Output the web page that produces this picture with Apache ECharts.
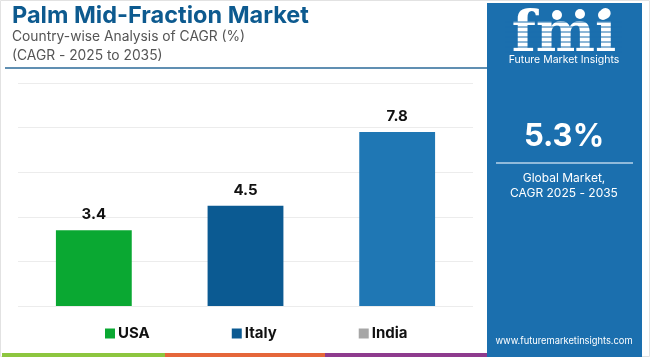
<!DOCTYPE html>
<html>
<head>
<meta charset="utf-8">
<script src="https://cdn.jsdelivr.net/npm/echarts@6/dist/echarts.min.js"></script>
<style>html,body{margin:0;padding:0;background:#fff}#c{width:650px;height:357px}</style>
</head>
<body>
<div id="c"></div>
<script>
const categories = ['USA', 'Italy', 'India'];
const values = [3.4, 4.5, 7.8];
const barColors = ['#0aa832', '#0b5a92', '#1f77b4'];
const legendColors = ['#0aa832', '#0b5a92', '#a6a6a6'];
const yTicks = [0, 2, 4, 6, 8, 10];

const chart = echarts.init(document.getElementById('c'));
const series = categories.map((name, i) => ({
  name: name,
  type: 'bar',
  barWidth: '50%',
  barGap: '-100%',
  itemStyle: { color: barColors[i] },
  label: { show: true, position: 'top', distance: 8, color: '#111', fontWeight: 'bold', fontSize: 15, fontFamily: 'Inter' },
  data: categories.map((c, j) => j === i ? values[i] : '-')
}));

const font = 'Inter';
chart.setOption({
  animation: false,
  grid: { left: 18, right: 177, top: 83, bottom: 51, containLabel: false },
  xAxis: { type: 'category', data: categories, axisLine: { show: false }, axisTick: { show: false }, axisLabel: { show: false } },
  yAxis: { type: 'value', min: yTicks[0], max: yTicks[yTicks.length - 1], interval: 2, axisLabel: { show: false },
    splitLine: { lineStyle: { color: '#ececec', width: 1 } } },
  legend: {
    left: 100, top: 321, itemWidth: 10, itemHeight: 10, itemGap: 82, icon: 'rect',
    textStyle: { fontFamily: font, fontWeight: 'bold', fontSize: 15, color: '#111', padding: [0, 0, 0, -2] },
    data: categories.map((n, i) => ({ name: n, itemStyle: { color: legendColors[i] } }))
  },
  series: series,
  graphic: [
    { type: 'rect', shape: { x: 0.5, y: 0.5, width: 649, height: 356 }, style: { fill: 'none', stroke: '#e2e2e2', lineWidth: 1 }, silent: true, z: -10 },
    { type: 'text', left: 12, top: 4, style: { text: 'Palm Mid-Fraction Market', fill: '#0d5a8f', font: 'bold 23.5px Inter' } },
    { type: 'text', left: 12, top: 30, style: { text: 'Country-wise Analysis of CAGR (%)', fill: '#555', font: '13.8px Inter' } },
    { type: 'text', left: 12, top: 49, style: { text: '(CAGR - 2025 to 2035)', fill: '#555', font: '13.8px Inter' } },
    { type: 'line', shape: { x1: 5, y1: 68, x2: 487, y2: 68 }, style: { stroke: '#2b6a98', lineWidth: 1.5 } },
    { type: 'rect', shape: { x: 2, y: 353, width: 163, height: 4 }, style: { fill: '#8dc63f' } },
    { type: 'rect', shape: { x: 165, y: 353, width: 160, height: 4 }, style: { fill: '#e5673a' } },
    { type: 'rect', shape: { x: 325, y: 353, width: 162, height: 4 }, style: { fill: '#8e3b8e' } },
    { type: 'rect', shape: { x: 487, y: 3, width: 155, height: 354 }, style: { fill: '#1b6fae' } },
    { type: 'text', x: 564, y: 8, style: { text: 'fmi', fill: '#fff', font: 'bold 56px "DejaVu Serif"', align: 'center', verticalAlign: 'top' } },
    { type: 'group', children: [0,1,2,3,4,5,6].map(k => ({ type: 'line', shape: { x1: 505, y1: 22 + k * 5, x2: 622, y2: 22 + k * 5 }, style: { stroke: '#1b6fae', lineWidth: 1 } })) },
    { type: 'circle', shape: { cx: 557, cy: 15, r: 5 }, style: { fill: '#fff' } },
    { type: 'circle', shape: { cx: 580, cy: 14, r: 5 }, style: { fill: '#fff' } },
    { type: 'circle', shape: { cx: 603, cy: 15, r: 5 }, style: { fill: '#fff' } },
    { type: 'text', x: 564, y: 60, style: { text: 'Future Market Insights', fill: '#fff', font: '10.5px Inter', align: 'center', verticalAlign: 'middle' } },
    { type: 'text', x: 564, y: 137, style: { text: '5.3%', fill: '#fff', font: 'bold 31px Inter', align: 'center', verticalAlign: 'middle' } },
    { type: 'line', shape: { x1: 496, y1: 163, x2: 633, y2: 163 }, style: { stroke: '#b9d3ea', lineWidth: 1.5 } },
    { type: 'text', x: 564, y: 178, style: { text: 'Global Market,', fill: '#fff', font: '12px Inter', align: 'center', verticalAlign: 'middle' } },
    { type: 'text', x: 564, y: 193, style: { text: 'CAGR 2025 - 2035', fill: '#fff', font: '12px Inter', align: 'center', verticalAlign: 'middle' } },
    { type: 'text', x: 564, y: 341, style: { text: 'www.futuremarketinsights.com', fill: '#fff', font: '9.3px Inter', align: 'center', verticalAlign: 'middle' } }
  ]
});
</script>
</body>
</html>
